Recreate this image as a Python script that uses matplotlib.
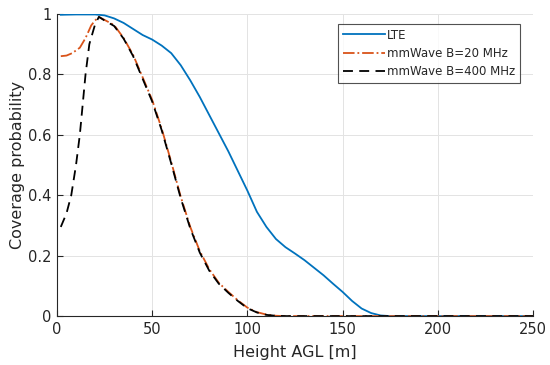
import matplotlib
matplotlib.use("Agg")
import matplotlib.pyplot as plt

# Data
lte_x = [2, 10, 20, 25, 30, 35, 40, 45, 50, 55, 60, 65, 70, 75, 80, 85, 90, 95,
         100, 105, 110, 115, 120, 125, 130, 135, 140, 145, 150, 155, 160, 165,
         170, 175, 200, 250]
lte_y = [0.997, 0.998, 0.998, 0.995, 0.985, 0.97, 0.95, 0.93, 0.915, 0.895, 0.87,
         0.83, 0.78, 0.725, 0.665, 0.605, 0.545, 0.48, 0.415, 0.345, 0.295, 0.255,
         0.228, 0.207, 0.185, 0.16, 0.135, 0.107, 0.08, 0.05, 0.025, 0.01,
         0.002, 0.0, 0.0, 0.0]

mm20_x = [2, 5, 8, 12, 15, 18, 20, 22, 25, 30, 35, 40, 45, 50, 55, 60, 65, 70,
          75, 80, 85, 90, 95, 100, 105, 110, 115, 120, 150, 200, 250]
mm20_y = [0.86, 0.862, 0.87, 0.888, 0.92, 0.962, 0.978, 0.99, 0.98, 0.963, 0.92,
          0.864, 0.79, 0.715, 0.62, 0.51, 0.395, 0.295, 0.215, 0.155, 0.11, 0.08,
          0.052, 0.028, 0.013, 0.005, 0.001, 0.0, 0.0, 0.0, 0.0]

mm400_x = [2, 5, 7.5, 10, 12, 15, 17, 20, 22, 25, 30, 35, 40, 45, 50, 55, 60, 65,
           70, 75, 80, 85, 90, 95, 100, 105, 110, 115, 120, 150, 200, 250]
mm400_y = [0.295, 0.34, 0.4, 0.5, 0.6, 0.8, 0.9, 0.965, 0.99, 0.978, 0.96, 0.918,
           0.86, 0.785, 0.71, 0.615, 0.505, 0.39, 0.29, 0.21, 0.15, 0.107, 0.077,
           0.05, 0.026, 0.012, 0.004, 0.001, 0.0, 0.0, 0.0, 0.0]

x_ticks = [0, 50, 100, 150, 200, 250]
y_ticks = [0, 0.2, 0.4, 0.6, 0.8, 1]
y_tick_labels = ["0", "0.2", "0.4", "0.6", "0.8", "1"]

plt.rcParams['font.family'] = ['DejaVu Sans']
fig = plt.figure(figsize=(5.5, 3.65), dpi=100)
ax = fig.add_axes([0.1036, 0.134, 0.8655, 0.828])

ax.plot(lte_x, lte_y, color='#0072BD', lw=1.3, label='LTE')
ax.plot(mm20_x, mm20_y, color='#D95319', lw=1.3, ls='-.', label='mmWave B=20 MHz')
ax.plot(mm400_x, mm400_y, color='black', lw=1.3, ls=(0, (5.5, 3.5)), label='mmWave B=400 MHz')

ax.set_xlim(0, 250)
ax.set_ylim(0, 1)
ax.set_xticks(x_ticks)
ax.set_yticks(y_ticks)
ax.set_yticklabels(y_tick_labels)
ax.grid(True, color='#e3e3e3', lw=0.7)
ax.set_axisbelow(True)
for s in ['top', 'right']:
    ax.spines[s].set_visible(False)
for s in ['left', 'bottom']:
    ax.spines[s].set_color('#262626')
    ax.spines[s].set_linewidth(0.8)
ax.tick_params(direction='in', length=4, width=0.8, colors='#262626',
               labelsize=10.5, pad=4)
ax.set_xlabel('Height AGL [m]', fontsize=11.5, color='#262626', labelpad=6)
ax.set_ylabel('Coverage probability', fontsize=11.5, color='#262626', labelpad=2)

leg = ax.legend(loc='upper right', bbox_to_anchor=(0.978, 0.975), fontsize=8.5,
                frameon=True, fancybox=False, handlelength=3.6, handletextpad=0.15,
                borderpad=0.4, labelspacing=0.45, borderaxespad=0.2)
leg.get_frame().set_edgecolor('#262626')
leg.get_frame().set_linewidth(0.8)
for t in leg.get_texts():
    t.set_color('#262626')

fig.savefig('out.png', dpi=100)
